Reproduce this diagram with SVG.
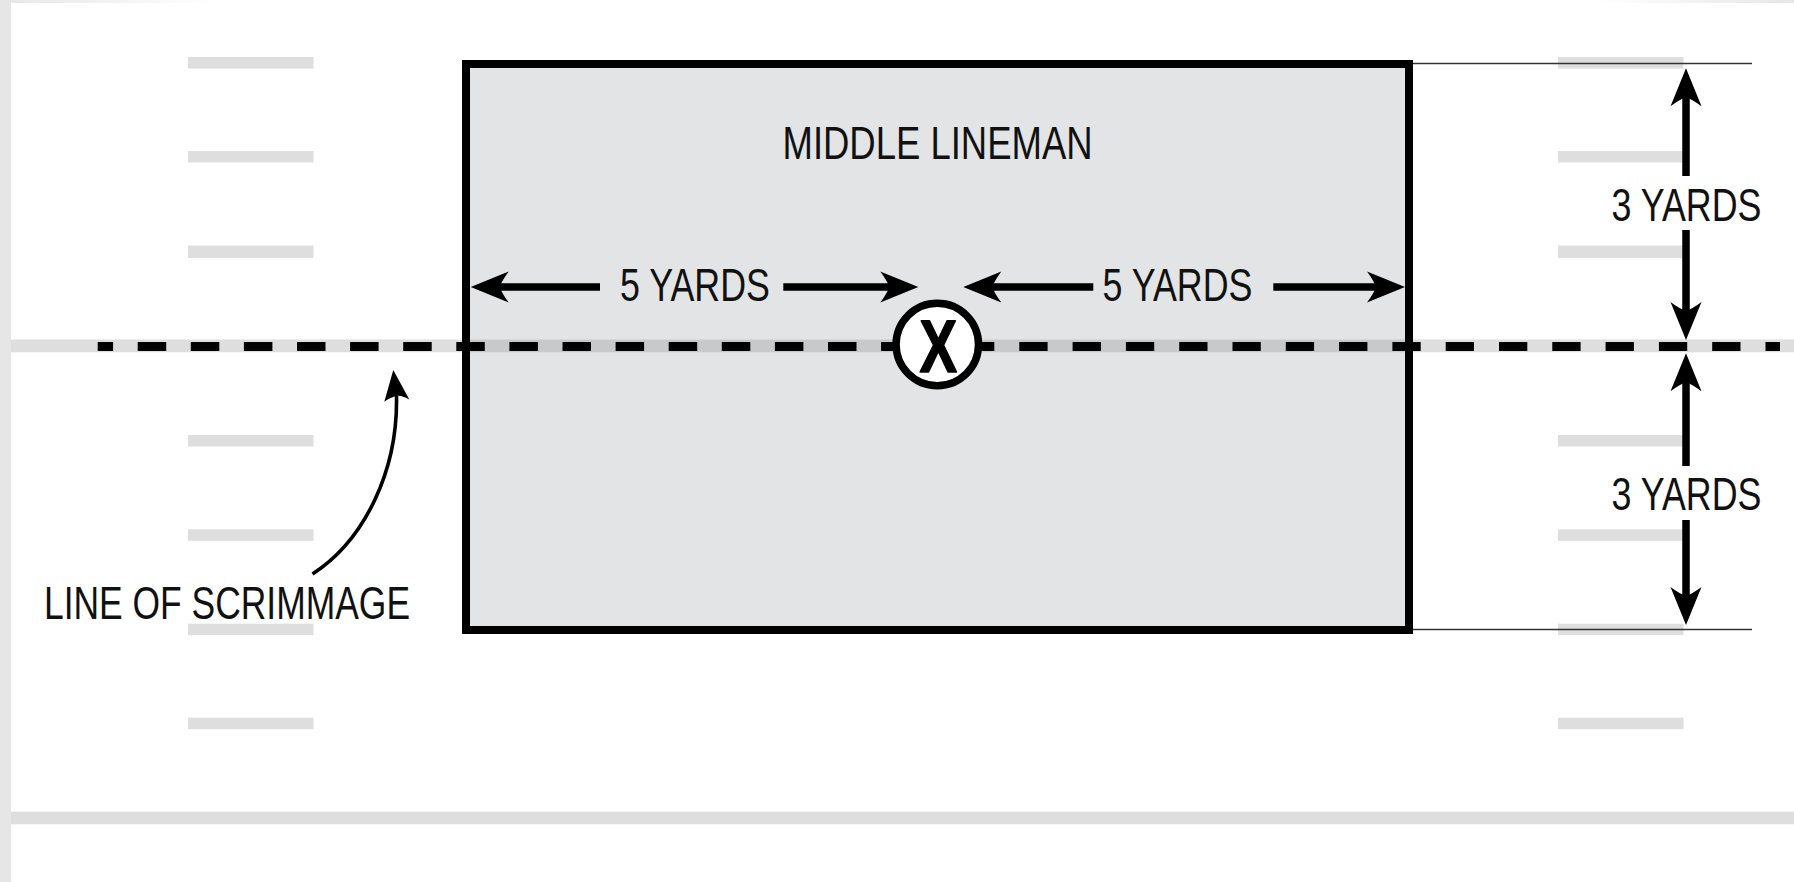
<svg xmlns="http://www.w3.org/2000/svg" xmlns:xlink="http://www.w3.org/1999/xlink" width="1794" height="882" viewBox="0 0 1794 882">
  <style>
    .tick { fill: #dedede; }
    .label { font-family: "Liberation Sans", Arial, sans-serif; font-size: 46.6px; fill: #111; }
    .shaft { stroke: #000; stroke-width: 7.5; fill: none; }
    .head { fill: #000; }
    .dash { stroke: #000; stroke-width: 9; fill: none; }
    .thin { stroke: #333; stroke-width: 1.5; }
  </style>
  <defs>
    <!-- arrowhead pointing right, tip at the origin -->
    <path id="ah" class="head" d="M0,0 L-38,-15.5 Q-31,-6 -29,0 Q-31,6 -38,15.5 Z"/>
    <linearGradient id="topEdge" x1="0" y1="0" x2="1" y2="0">
      <stop offset="0" stop-color="#e6e6e6"/>
      <stop offset="0.12" stop-color="#ffffff"/>
      <stop offset="0.89" stop-color="#ffffff"/>
      <stop offset="1" stop-color="#e6e6e6"/>
    </linearGradient>
  </defs>

  <!-- field background and yard markings -->
  <g id="field">
    <rect x="0" y="0" width="1794" height="882" fill="#ffffff"/>
    <rect x="0" y="0" width="1794" height="3" fill="url(#topEdge)"/>
    <rect x="0" y="0" width="11" height="882" fill="#e6e6e6"/>
    <g id="ticks-left">
      <rect class="tick" x="188" y="57" width="125.5" height="11.5"/>
      <rect class="tick" x="188" y="151" width="125.5" height="11.5"/>
      <rect class="tick" x="188" y="245.5" width="125.5" height="12.5"/>
      <rect class="tick" x="188" y="435" width="125.5" height="11.5"/>
      <rect class="tick" x="188" y="529.3" width="125.5" height="11.5"/>
      <rect class="tick" x="188" y="623.7" width="125.5" height="11.5"/>
      <rect class="tick" x="188" y="717.7" width="125.5" height="11.5"/>
    </g>
    <g id="ticks-right">
      <rect class="tick" x="1558" y="57" width="125.5" height="11.5"/>
      <rect class="tick" x="1558" y="151" width="125.5" height="11.5"/>
      <rect class="tick" x="1558" y="245.5" width="125.5" height="12.5"/>
      <rect class="tick" x="1558" y="435" width="125.5" height="11.5"/>
      <rect class="tick" x="1558" y="529.3" width="125.5" height="11.5"/>
      <rect class="tick" x="1558" y="623.7" width="125.5" height="11.5"/>
      <rect class="tick" x="1558" y="717.7" width="125.5" height="11.5"/>
    </g>
    <rect id="scrimmage-band" x="11" y="339.5" width="1783" height="12.8" fill="#dedede"/>
    <rect id="bottom-line" x="11" y="811.7" width="1783" height="12.6" fill="#dedede"/>
  </g>

  <!-- the middle lineman zone -->
  <g id="zone">
    <rect x="466" y="64" width="943" height="566" fill="#e3e4e6"/>
    <rect x="470" y="339.5" width="935" height="12.8" fill="#c8c9cb"/>
    <text class="label" transform="translate(782.5,159.3) scale(0.783,1)" x="0" y="0" textLength="396" lengthAdjust="spacingAndGlyphs">MIDDLE LINEMAN</text>
  </g>

  <!-- line of scrimmage dashes -->
  <g id="scrimmage-line">
    <line class="dash" x1="97.7" y1="346.6" x2="905" y2="346.6" stroke-dasharray="28.5 24.6" stroke-dashoffset="13.1"/>
    <line class="dash" x1="966" y1="346.6" x2="1780" y2="346.6" stroke-dasharray="28.3 25"/>
  </g>

  <g id="zone-border">
    <rect x="466" y="64" width="943" height="566" fill="none" stroke="#000" stroke-width="8"/>
  </g>

  <!-- player marker -->
  <g id="player">
    <circle cx="937.3" cy="344.5" r="41.2" fill="#ffffff" stroke="#000" stroke-width="7.5"/>
    <text transform="translate(938.3,371.5) scale(0.755,1)" x="0" y="0" text-anchor="middle" font-family="Liberation Sans, Arial, sans-serif" font-weight="bold" font-size="74.6" fill="#000" stroke="#000" stroke-width="1.6" stroke-linejoin="round">X</text>
  </g>

  <!-- dimension arrows -->
  <g id="connectors">
    <line class="thin" x1="1413" y1="63.5" x2="1752" y2="63.5"/>
    <line class="thin" x1="1413" y1="629.5" x2="1752" y2="629.5"/>

    <!-- left 5 yards -->
    <line class="shaft" x1="498" y1="287" x2="600" y2="287"/>
    <line class="shaft" x1="783.3" y1="287" x2="890" y2="287"/>
    <use xlink:href="#ah" transform="translate(470.7,287) rotate(180)"/>
    <use xlink:href="#ah" transform="translate(918.3,287)"/>

    <!-- right 5 yards -->
    <line class="shaft" x1="991" y1="287" x2="1093.3" y2="287"/>
    <line class="shaft" x1="1273.3" y1="287" x2="1377" y2="287"/>
    <use xlink:href="#ah" transform="translate(963.3,287) rotate(180)"/>
    <use xlink:href="#ah" transform="translate(1405,287)"/>

    <!-- upper 3 yards -->
    <line class="shaft" x1="1686" y1="96" x2="1686" y2="176"/>
    <line class="shaft" x1="1686" y1="230" x2="1686" y2="312"/>
    <use xlink:href="#ah" transform="translate(1686,68.3) rotate(-90)"/>
    <use xlink:href="#ah" transform="translate(1686,340) rotate(90)"/>

    <!-- lower 3 yards -->
    <line class="shaft" x1="1686" y1="381" x2="1686" y2="466"/>
    <line class="shaft" x1="1686" y1="520" x2="1686" y2="597"/>
    <use xlink:href="#ah" transform="translate(1686,353.3) rotate(-90)"/>
    <use xlink:href="#ah" transform="translate(1686,625) rotate(90)"/>

    <!-- pointer to the line of scrimmage -->
    <path d="M312.5,574 C365,540 398,470 396.5,396" fill="none" stroke="#000" stroke-width="3.6"/>
    <path class="head" d="M393.3,370 L409.3,399.5 Q401,395 396.5,396 Q391,397 384.3,401.7 Z"/>
  </g>

  <g id="labels">
    <text class="label" transform="translate(620,301) scale(0.752,1)" x="0" y="0" textLength="199.4" lengthAdjust="spacingAndGlyphs">5 YARDS</text>
    <text class="label" transform="translate(1102.5,301) scale(0.752,1)" x="0" y="0" textLength="199.4" lengthAdjust="spacingAndGlyphs">5 YARDS</text>
    <text class="label" transform="translate(1611.5,220.5) scale(0.752,1)" x="0" y="0" textLength="199.4" lengthAdjust="spacingAndGlyphs">3 YARDS</text>
    <text class="label" transform="translate(1611.5,509.8) scale(0.752,1)" x="0" y="0" textLength="199.4" lengthAdjust="spacingAndGlyphs">3 YARDS</text>
    <text class="label" transform="translate(44,618.5) scale(0.76,1)" x="0" y="0" textLength="481.6" lengthAdjust="spacingAndGlyphs">LINE OF SCRIMMAGE</text>
  </g>
</svg>
